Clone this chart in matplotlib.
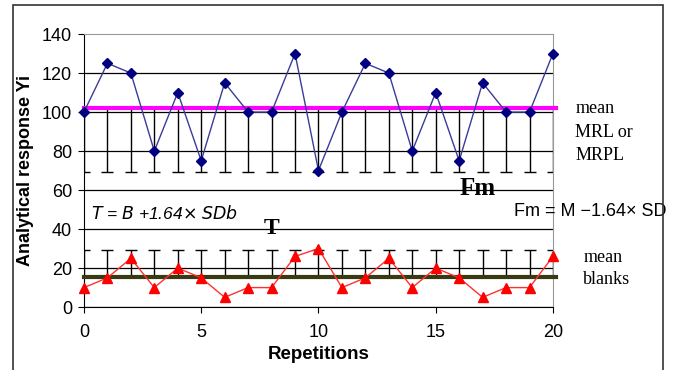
import numpy as np
import matplotlib.pyplot as plt
from matplotlib.patches import Rectangle

# data
reps = list(range(21))
samples = [100, 125, 120, 80, 110, 75, 115, 100, 100, 130, 70,
           100, 125, 120, 80, 110, 75, 115, 100, 100, 130]
blanks = [10, 15, 25, 10, 20, 15, 5, 10, 10, 26, 30,
          10, 15, 25, 10, 20, 15, 5, 10, 10, 26]
mean_mrl = 102
mean_blank = 15.5
fm_level = 69.5
t_level = 29.5

plt.rcParams['font.family'] = ['Liberation Sans', 'DejaVu Sans']

fig = plt.figure(figsize=(6.75, 3.7), dpi=100)
ax = fig.add_axes([0.1244, 0.170, 0.6948, 0.738])

# outer frame
fig.patches.append(Rectangle((0.019, -0.02), 0.963, 1.0065, transform=fig.transFigure,
                             fill=False, edgecolor='#333333', linewidth=1.2))

ax.set_xlim(0, 20)
ax.set_ylim(0, 140)
ax.set_yticks(np.arange(0, 141, 20))
ax.set_xticks([0, 5, 10, 15, 20])
for y in range(0, 140, 20):
    ax.axhline(y, color='black', linewidth=0.9, zorder=1)

x = np.array(reps)
# error bars down from the MRL mean and up from the blank mean
ax.errorbar(x, np.full(21, mean_mrl), yerr=[np.full(21, mean_mrl - fm_level), np.zeros(21)],
            fmt='none', ecolor='black', elinewidth=1, capsize=4, capthick=1, zorder=2)
ax.errorbar(x, np.full(21, mean_blank), yerr=[np.zeros(21), np.full(21, t_level - mean_blank)],
            fmt='none', ecolor='black', elinewidth=1, capsize=4, capthick=1, zorder=2)

ax.plot([0, 20.15], [mean_mrl, mean_mrl], color='#ff00ff', linewidth=3, zorder=3, clip_on=False)
ax.plot([0, 20.15], [mean_blank, mean_blank], color='#3a3a12', linewidth=3, zorder=3, clip_on=False)

ax.plot(x, samples, color='#3b3b9a', linewidth=1, marker='D', markersize=5.5,
        markerfacecolor='#000080', markeredgecolor='#000080', zorder=4, clip_on=False)
ax.plot(x, blanks, color='#ff3030', linewidth=1, marker='^', markersize=7,
        markerfacecolor='#ff0000', markeredgecolor='#ff0000', zorder=4, clip_on=False)

# annotations
ax.text(0.3, 48, r'$T$ = $B$ +1.64$\times$ $SDb$', fontsize=12.5, style='italic', va='center')
ax.text(8.0, 40.5, 'T', fontsize=17, fontweight='bold', family='Liberation Serif',
        ha='center', va='center')
ax.text(16.8, 61, 'Fm', fontsize=18, fontweight='bold', family='Liberation Serif',
        ha='center', va='center')
ax.text(21.6, 49, 'Fm = M \u22121.64\u00d7 SD', fontsize=13, ha='center', va='center')
serif = dict(fontsize=13, family='Liberation Serif', va='center')
ax.text(20.95, 102, 'mean', **serif)
ax.text(20.95, 89.5, 'MRL or', **serif)
ax.text(20.95, 77.5, 'MRPL', **serif)
ax.text(21.3, 25.5, 'mean', **serif)
ax.text(21.3, 14, 'blanks', **serif)

ax.set_xlabel('Repetitions', fontsize=13.5, fontweight='bold', labelpad=3)
ax.set_ylabel('Analytical response Yi', fontsize=13, fontweight='bold', labelpad=6)

ax.spines['top'].set_color('#999999')
ax.spines['right'].set_color('#999999')
ax.spines['left'].set_color('black')
ax.spines['bottom'].set_color('black')
ax.tick_params(axis='both', labelsize=13, length=4.5, direction='out', colors='black')
ax.tick_params(axis='x', pad=8)
ax.tick_params(axis='y', pad=4)

fig.savefig('out.png', dpi=100)
